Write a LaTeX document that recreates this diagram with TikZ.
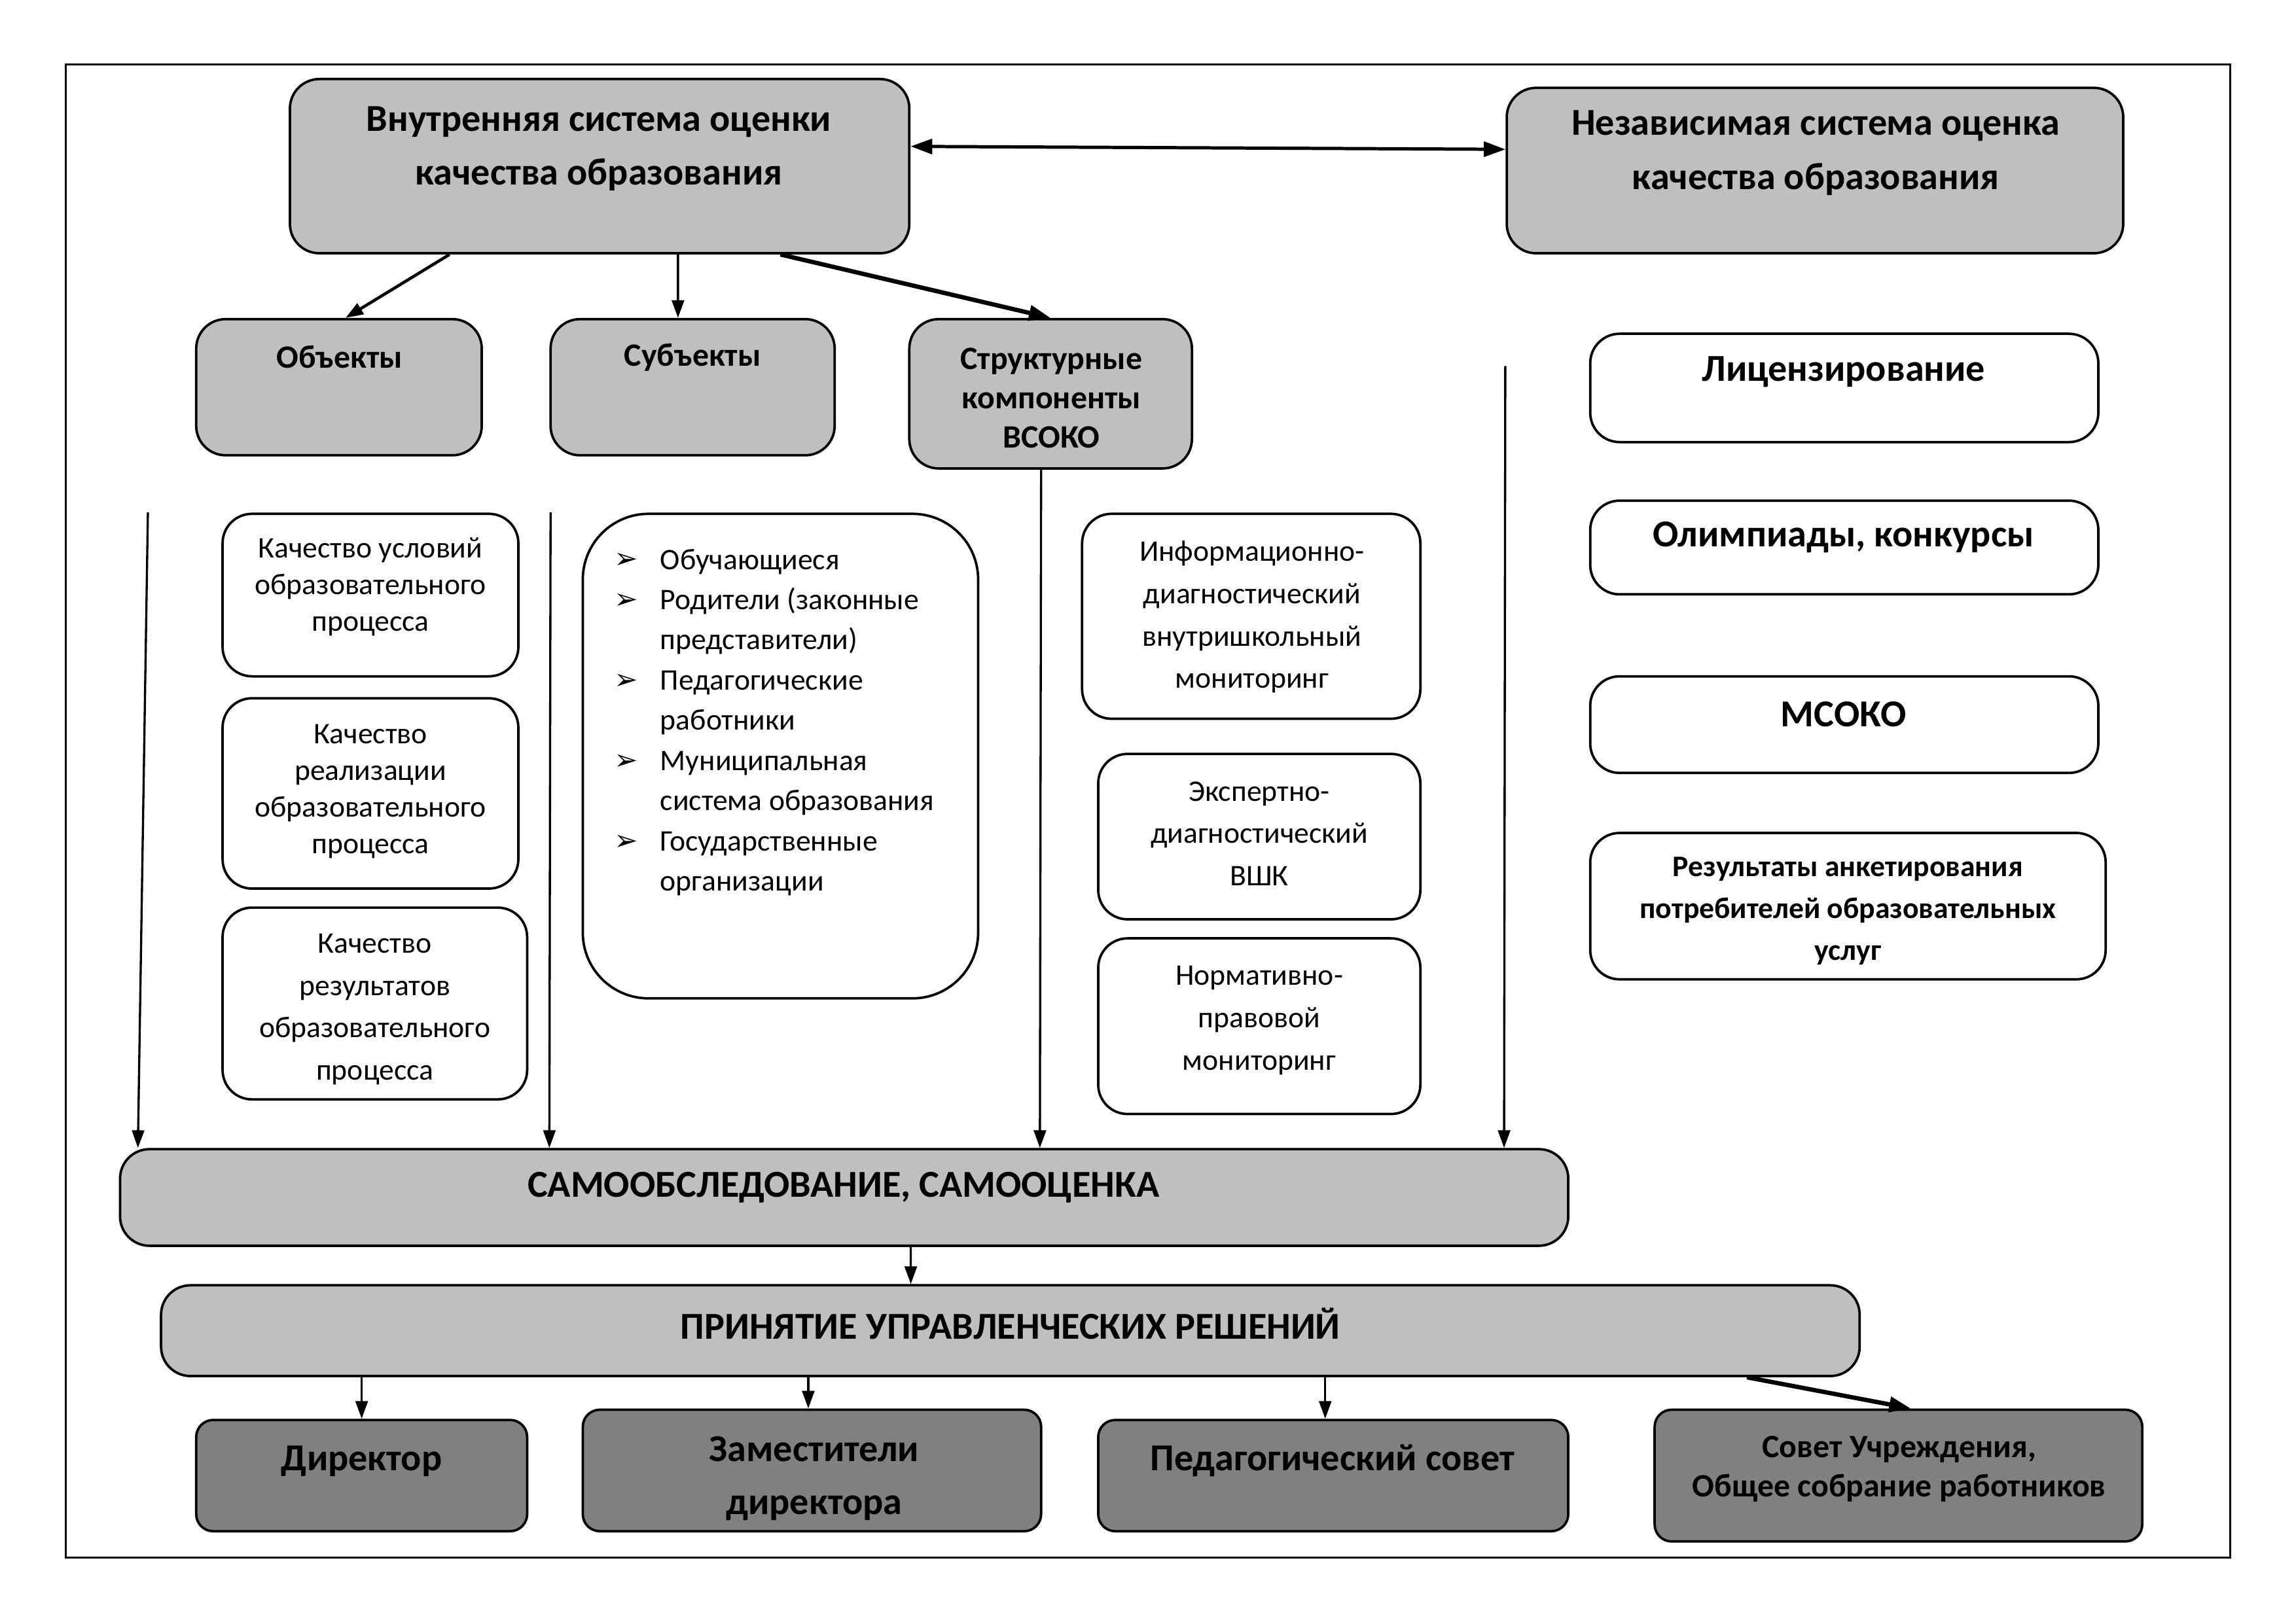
\documentclass[tikz,border=0pt]{standalone}
\usepackage{fontspec}
\setmainfont{Carlito}
\newfontfamily\symfont{DejaVu Sans}
\usetikzlibrary{arrows.meta,positioning}
\newcommand{\myunit}{0.018941cm}
\newcommand{\bul}{\makebox[17pt][l]{\raisebox{0.3pt}{\symfont\fontsize{10.5}{10}\selectfont ➢}}}
\newcommand{\ind}{\hspace*{17pt}}
% box from corner (x1,y1) to (x2,y2), in px of the page
\newcommand{\mybox}[6]{\node[#1, minimum width={(#5-#3)*\myunit}, minimum height={(#6-#4)*\myunit}] (#2) at ({(#3+#5)/2},{(#4+#6)/2}) {};}
\colorlet{lightbox}{black!25}
\colorlet{darkbox}{black!50}
\tikzset{
    grsty/.style={draw, fill=lightbox, rounded corners=0.38cm, line width=0.9pt},
    whsty/.style={draw, fill=white, rounded corners=0.38cm, line width=0.9pt},
    bigwhsty/.style={draw, fill=white, rounded corners=0.85cm, line width=0.9pt},
    dksty/.style={draw, fill=darkbox, rounded corners=0.22cm, line width=0.9pt},
    txtsty/.style={align=center, inner sep=0pt},
    titlesty/.style={txtsty, font=\bfseries\fontsize{14}{19.9}\selectfont},
    headsty/.style={txtsty, font=\bfseries\fontsize{12}{14.5}\selectfont},
    bodysty/.style={txtsty, font=\fontsize{11}{13.5}\selectfont},
    widesty/.style={txtsty, font=\fontsize{11}{15.6}\selectfont},
    boldsty/.style={txtsty, font=\bfseries\fontsize{14}{19.4}\selectfont},
    smbsty/.style={txtsty, font=\bfseries\fontsize{11}{15.4}\selectfont},
    arrsty/.style={->, line width=0.8pt},
    tharrsty/.style={-{Triangle[length=8pt,width=5.5pt]}, line width=1.6pt},
}

\begin{document}
\begin{tikzpicture}[x=\myunit, y=-\myunit, >={Triangle[length=6.5pt,width=4.5pt]}]
  \useasboundingbox (0,0) rectangle (1568,1109);
  \draw[line width=0.6pt] (45,44) rectangle (1523,1064);

  % top level
  \mybox{grsty}{vsoko}{198}{54}{621}{173}
  \mybox{grsty}{nsoko}{1029}{60}{1450}{173}
  \node[titlesty] (vsokot) at (409,101.5) {Внутренняя система оценки\\качества образования};
  \node[titlesty] (nsokot) at (1240,104.5) {Независимая система оценка\\качества образования};

  % second level
  \mybox{grsty}{obj}{134}{218}{329}{311}
  \mybox{grsty}{subj}{376}{218}{570}{311}
  \mybox{grsty}{struct}{621}{218}{814}{320}
  \node[headsty] (objt) at (232,244) {Объекты};
  \node[headsty] (subjt) at (473,244) {Субъекты};
  \node[headsty] (structt) at (718,272) {Структурные\\компоненты\\ВСОКО};

  % objects
  \mybox{whsty}{qa}{152}{351}{354}{462}
  \mybox{whsty}{qb}{152}{477}{354}{607}
  \mybox{whsty}{qc}{152}{620}{360}{751}
  \node[bodysty] (qat) at (253,401) {Качество условий\\образовательного\\процесса};
  \node[bodysty] (qbt) at (253,540.5) {Качество\\реализации\\образовательного\\процесса};
  \node[widesty] (qct) at (256,689.5) {Качество\\результатов\\образовательного\\процесса};

  % subjects
  \mybox{bigwhsty}{subjl}{398}{351}{668}{682}
  \node[txtsty, align=left, anchor=west, font=\fontsize{11}{14.8}\selectfont] (subjlt) at (419,493.5)
    {\bul Обучающиеся\\ \bul Родители (законные\\ \ind представители)\\ \bul Педагогические\\ \ind работники\\
     \bul Муниципальная\\ \ind система образования\\ \bul Государственные\\ \ind организации};

  % structural components
  \mybox{whsty}{ma}{739}{351}{970}{491}
  \mybox{whsty}{mb}{750}{515}{970}{628}
  \mybox{whsty}{mc}{750}{641}{970}{761}
  \node[widesty] (mat) at (855,421.5) {Информационно-\\диагностический\\внутришкольный\\мониторинг};
  \node[widesty] (mbt) at (860,569.5) {Экспертно-\\диагностический\\ВШК};
  \node[widesty] (mct) at (860,697) {Нормативно-\\правовой\\мониторинг};

  % independent evaluation
  \mybox{whsty}{lic}{1086}{228}{1433}{302}
  \mybox{whsty}{olymp}{1086}{342}{1433}{406}
  \mybox{whsty}{msoko}{1086}{462}{1433}{528}
  \mybox{whsty}{anket}{1086}{569}{1438}{669}
  \node[boldsty] (lict) at (1259,254) {Лицензирование};
  \node[boldsty] (olympt) at (1259,367) {Олимпиады, конкурсы};
  \node[boldsty] (msokot) at (1259,488) {МСОКО};
  \node[smbsty] (anket) at (1262,622.5) {Результаты анкетирования\\потребителей образовательных\\услуг};

  % self evaluation and decisions
  \mybox{grsty}{self}{82}{785}{1071}{851}
  \mybox{grsty}{decis}{110}{878}{1270}{940}
  \node[boldsty] (selft) at (576,811) {САМООБСЛЕДОВАНИЕ, САМООЦЕНКА};
  \node[boldsty] (decist) at (690,904) {ПРИНЯТИЕ УПРАВЛЕНЧЕСКИХ РЕШЕНИЙ};

  % bodies
  \mybox{dksty}{dir}{134}{970}{360}{1046}
  \mybox{dksty}{zam}{398}{963}{711}{1046}
  \mybox{dksty}{ped}{750}{970}{1071}{1046}
  \mybox{dksty}{sovet}{1130}{963}{1463}{1053}
  \node[boldsty] (dirt) at (247,998) {Директор};
  \node[boldsty] (zamt) at (556,1010) {Заместители\\директора};
  \node[boldsty] (pedt) at (910,998) {Педагогический совет};
  \node[headsty] (sovett) at (1297,1003.5) {Совет Учреждения,\\Общее собрание работников};

  % connectors
  \draw[tharrsty, {Triangle[length=8pt,width=5.5pt]}-{Triangle[length=8pt,width=5.5pt]}, line width=1.2pt]
    ([yshift=13.5*\myunit]vsoko.east) -- ([yshift=14.5*\myunit]nsoko.west);
  \draw[arrsty, line width=1.1pt] ([xshift=-102.5*\myunit]vsoko.south) -- ([xshift=4.5*\myunit]obj.north);
  \draw[arrsty] ([xshift=53.5*\myunit]vsoko.south) -- ([xshift=-10*\myunit]subj.north);
  \draw[tharrsty] ([xshift=123.5*\myunit]vsoko.south) -- (struct.north);

  \coordinate (la) at (101,350);
  \coordinate (lb) at (376,350);
  \coordinate (ld) at (1028,250);
  \draw[arrsty] (la) -- ([xshift=13*\myunit]self.north west);
  \draw[arrsty] (lb) -- ([xshift=294*\myunit]self.north west);
  \draw[arrsty] ([xshift=-6.5*\myunit]struct.south) -- ([xshift=629*\myunit]self.north west);
  \draw[arrsty] (ld) -- ([xshift=946*\myunit]self.north west);

  \draw[arrsty] ([xshift=45.5*\myunit]self.south) -- ([xshift=-68*\myunit]decis.north);
  \draw[arrsty] (decis.south -| dir.north) -- (dir.north);
  \draw[arrsty] ([xshift=-2.5*\myunit]decis.south -| zam.north) -- ([xshift=-2.5*\myunit]zam.north);
  \draw[arrsty] ([xshift=-5.5*\myunit]decis.south -| ped.north) -- ([xshift=-5.5*\myunit]ped.north);
  \draw[tharrsty] ([xshift=503*\myunit]decis.south) -- ([xshift=8.5*\myunit]sovet.north);
\end{tikzpicture}
\end{document}
